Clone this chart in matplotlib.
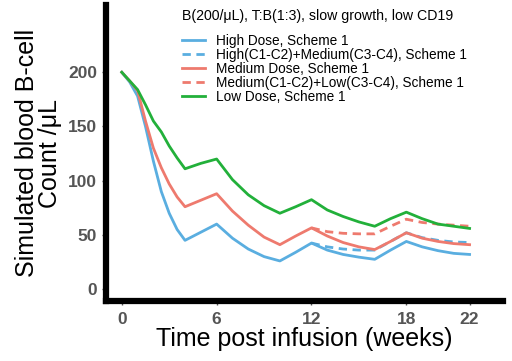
import matplotlib
matplotlib.use('Agg')
from matplotlib import pyplot as plt

plt.rcParams['font.family'] = ['Liberation Sans', 'DejaVu Sans']

weeks = [0, 0.5, 1, 1.5, 2, 2.5, 3, 3.5, 4, 5, 6, 7, 8, 9, 10, 11, 12,
         13, 14, 15, 16, 17, 18, 19, 20, 21, 22]
high = [200, 191, 178, 150, 118, 90, 70, 55, 45, 52.5, 60, 47, 37, 30, 26, 34, 42.5,
        36, 32, 29.5, 27.5, 36, 44, 39, 35.5, 33, 32]
medium = [200, 192, 183, 155, 130, 112, 97, 85, 76, 82, 88, 72, 59, 48, 41, 49, 56.5,
          49, 43, 39, 36.5, 44, 52, 47, 44, 42, 41]
low = [200, 192, 184, 170, 155, 145, 132, 121, 111, 116, 120, 101, 87, 77, 70, 76, 82.5,
       73, 67, 62, 58, 65, 71, 65, 60, 58, 56]

# switched schemes, from week 12 on
weeks_sw = [12, 13, 14, 15, 16, 17, 18, 19, 20, 21, 22]
high_med = [42.5, 39, 37, 36, 36, 44, 52, 47.5, 45, 43.5, 43]
med_low = [56.5, 53, 51.5, 51, 51, 58, 64.5, 61.5, 60, 59, 58]

labels = ["High Dose, Scheme 1",
          "High(C1-C2)+Medium(C3-C4), Scheme 1",
          "Medium Dose, Scheme 1",
          "Medium(C1-C2)+Low(C3-C4), Scheme 1",
          "Low Dose, Scheme 1"]
blue, red, green = '#5AAEE0', '#EE7A6E', '#22B03A'

fig = plt.figure(figsize=(5.12, 3.61), dpi=100)
ax = fig.add_axes([0.207, 0.166, 0.775, 0.82])

ax.plot(weeks, high, color=blue, lw=2, label=labels[0])
ax.plot(weeks_sw, high_med, color=blue, lw=2, ls=(0, (3, 2)), label=labels[1])
ax.plot(weeks, medium, color=red, lw=2, label=labels[2])
ax.plot(weeks_sw, med_low, color=red, lw=2, ls=(0, (3, 2)), label=labels[3])
ax.plot(weeks, low, color=green, lw=2, label=labels[4])

ax.set_xlim(-1.0, 24.1)
ax.set_ylim(-11, 262)
ax.set_xticks([0, 6, 12, 18, 22])
ax.set_yticks([0, 50, 100, 150, 200])

for s in ['top', 'right']:
    ax.spines[s].set_visible(False)
for s in ['left', 'bottom']:
    ax.spines[s].set_linewidth(4.5)
    ax.spines[s].set_color('black')
ax.tick_params(axis='both', labelsize=12.5, colors='#555555', length=3, width=1)
ax.tick_params(axis='x', pad=5)
for t in ax.get_xticklabels() + ax.get_yticklabels():
    t.set_fontweight('bold')

ax.set_xlabel('Time post infusion (weeks)', fontsize=18, labelpad=0)
ax.set_ylabel('Simulated blood B-cell\nCount /\u03bcL', fontsize=18, labelpad=4,
              linespacing=0.95)

leg = fig.legend(loc='upper left', bbox_to_anchor=(0.345, 0.99), frameon=False,
                 title='B(200/\u03bcL), T:B(1:3), slow growth, low CD19',
                 title_fontsize=10.2, fontsize=9.8, alignment='left',
                 handlelength=1.7, handletextpad=0.8, labelspacing=0.0,
                 borderaxespad=0)
leg._legend_box.sep = 8

fig.savefig('out.png', dpi=100)
